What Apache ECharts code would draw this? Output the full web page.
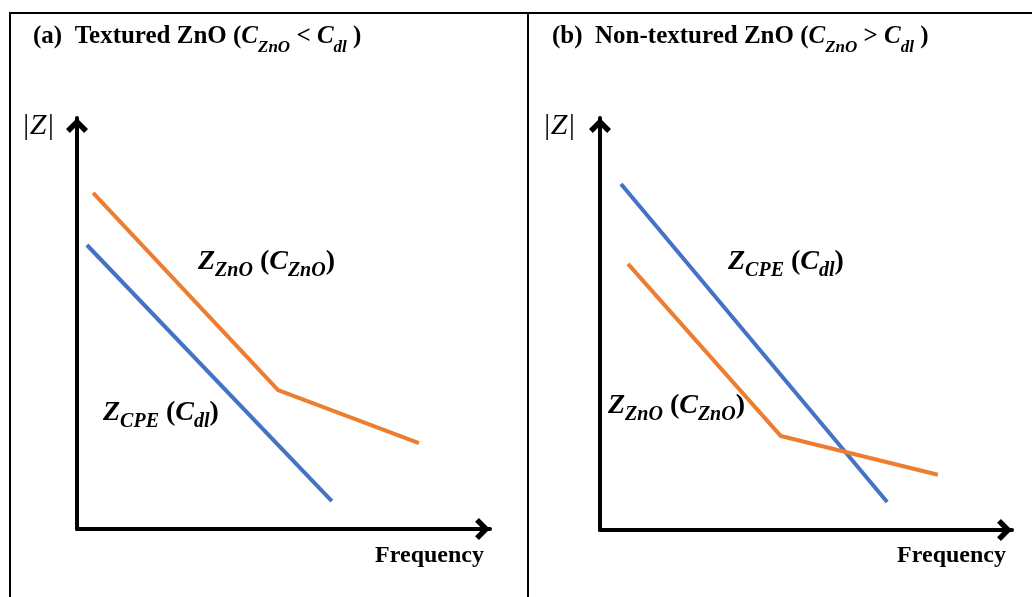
<!DOCTYPE html>
<html>
<head>
<meta charset="utf-8">
<script src="https://cdn.jsdelivr.net/npm/echarts@6/dist/echarts.min.js"></script>
<style>html,body{margin:0;padding:0;background:#fff}#c{width:1032px;height:597px}</style>
</head>
<body>
<div id="c"></div>
<script>
// Schematic data (arbitrary units, axes 0-100: frequency vs |Z|)
var panelA_ZnO_x = [3.9, 48.7, 82.8];
var panelA_ZnO_y = [81.8, 33.8, 20.9];
var panelA_CPE_x = [2.4, 61.7];
var panelA_CPE_y = [69.1, 6.8];
var panelB_CPE_x = [5.1, 69.7];
var panelB_CPE_y = [84.0, 6.8];
var panelB_ZnO_x = [6.8, 43.9, 82.0];
var panelB_ZnO_y = [64.6, 22.8, 13.4];
var xLabel = 'Frequency';
var yLabel = '|Z|';

function pairs(xs, ys) { return xs.map(function (x, i) { return [x, ys[i]]; }); }

var F = '"Liberation Serif", "Times New Roman", serif';
var BLUE = '#4472C4', ORANGE = '#ED7D31';
var chevron = 'path://M0,10 L10,0 L20,10 L16.5,13.5 L10,7 L3.5,13.5 Z';

function axis(i) {
  return {
    type: 'value', gridIndex: i, min: 0, max: 100,
    axisLine: { show: true, lineStyle: { color: '#000', width: 4, cap: 'round' },
      symbol: ['none', chevron], symbolSize: [22, 15], symbolOffset: [0, -7.5] },
    axisTick: { show: false }, axisLabel: { show: false }, splitLine: { show: false }
  };
}

var richTitle = {
  b: { fontFamily: F, fontWeight: 'bold', fontSize: 25, lineHeight: 25, padding: [0, 0, 7, 0], verticalAlign: 'bottom', color: '#000' },
  bi: { fontFamily: F, fontWeight: 'bold', fontStyle: 'italic', fontSize: 25, lineHeight: 25, padding: [0, 0, 7, 0], verticalAlign: 'bottom', color: '#000' },
  s: { fontFamily: F, fontWeight: 'bold', fontStyle: 'italic', fontSize: 17, lineHeight: 17, verticalAlign: 'bottom', color: '#000' }
};
var richLabel = {
  b: { fontFamily: F, fontWeight: 'bold', fontSize: 28, lineHeight: 28, padding: [0, 0, 5, 0], verticalAlign: 'bottom', color: '#000' },
  bi: { fontFamily: F, fontWeight: 'bold', fontStyle: 'italic', fontSize: 28, lineHeight: 28, padding: [0, 0, 5, 0], verticalAlign: 'bottom', color: '#000' },
  s: { fontFamily: F, fontWeight: 'bold', fontStyle: 'italic', fontSize: 20, lineHeight: 20, verticalAlign: 'bottom', color: '#000' }
};

function txt(x, y, text, rich, align) {
  return { type: 'text', x: x, y: y, silent: true,
    style: { text: text, rich: rich, align: align || 'left', verticalAlign: 'middle' } };
}
function plain(x, y, text, font, align) {
  return { type: 'text', x: x, y: y, silent: true,
    style: { text: text, font: font, fill: '#000', align: align || 'left', verticalAlign: 'middle' } };
}

var zno = '{bi|Z}{s|ZnO}{b| (}{bi|C}{s|ZnO}{b|)}';
var cpe = '{bi|Z}{s|CPE}{b| (}{bi|C}{s|dl}{b|)}';

var option = {
  backgroundColor: '#fff',
  animation: false,
  grid: [
    { left: 77, right: 542, top: 118, bottom: 68 },
    { left: 600, right: 20, top: 118, bottom: 67 }
  ],
  xAxis: [axis(0), axis(1)],
  yAxis: [axis(0), axis(1)],
  series: [
    { type: 'line', xAxisIndex: 0, yAxisIndex: 0, data: pairs(panelA_ZnO_x, panelA_ZnO_y), showSymbol: false, lineStyle: { color: ORANGE, width: 4 } },
    { type: 'line', xAxisIndex: 0, yAxisIndex: 0, data: pairs(panelA_CPE_x, panelA_CPE_y), showSymbol: false, lineStyle: { color: BLUE, width: 4 } },
    { type: 'line', xAxisIndex: 1, yAxisIndex: 1, data: pairs(panelB_CPE_x, panelB_CPE_y), showSymbol: false, lineStyle: { color: BLUE, width: 4 } },
    { type: 'line', xAxisIndex: 1, yAxisIndex: 1, data: pairs(panelB_ZnO_x, panelB_ZnO_y), showSymbol: false, lineStyle: { color: ORANGE, width: 4 } }
  ],
  graphic: [
    { type: 'rect', silent: true, shape: { x: 10, y: 13, width: 1100, height: 700 }, style: { fill: 'none', stroke: '#000', lineWidth: 2 } },
    { type: 'line', silent: true, shape: { x1: 528, y1: 13, x2: 528, y2: 600 }, style: { stroke: '#000', lineWidth: 2 } },
    txt(33, 44, '{b|(a)  Textured ZnO (}{bi|C}{s|ZnO}{b| < }{bi|C}{s|dl}{b| )}', richTitle),
    txt(552, 44, '{b|(b)  Non-textured ZnO (}{bi|C}{s|ZnO}{b| > }{bi|C}{s|dl}{b| )}', richTitle),
    txt(198, 267, zno, richLabel),
    txt(103, 418, cpe, richLabel),
    txt(728, 267, cpe, richLabel),
    txt(608, 411, zno, richLabel),
    plain(38, 126, yLabel, 'italic 30px ' + F, 'center'),
    plain(559, 126, yLabel, 'italic 30px ' + F, 'center'),
    plain(484, 556, xLabel, 'bold 24px ' + F, 'right'),
    plain(1006, 556, xLabel, 'bold 24px ' + F, 'right')
  ]
};
echarts.init(document.getElementById('c'), null, { renderer: 'canvas' }).setOption(option);
</script>
</body>
</html>
